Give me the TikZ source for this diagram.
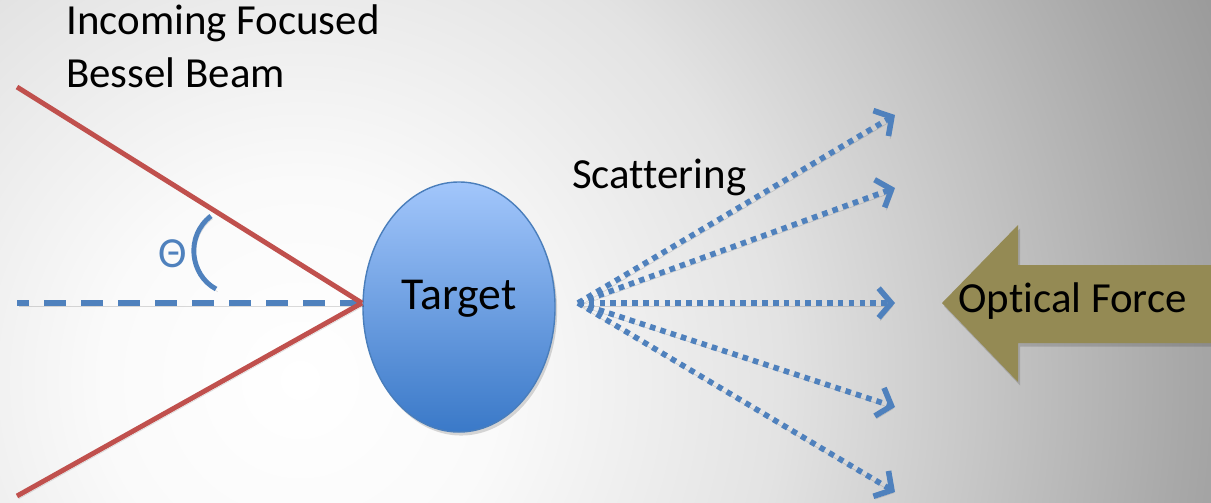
\documentclass[tikz,border=0pt]{standalone}
\usepackage{fontspec}
\setmainfont{Carlito}[Ligatures=CommonOff]
\usetikzlibrary{arrows.meta, shapes.geometric}

\definecolor{beamred}{HTML}{C0504D}
\definecolor{axisblue}{HTML}{4F81BD}
\definecolor{forceolive}{HTML}{948A54}
\definecolor{targettop}{HTML}{A2C6FB}
\definecolor{targetbot}{HTML}{3A79C8}
\definecolor{targetedge}{HTML}{4A7EBB}

% soft glow behind everything (path radius = 25bp)
\pgfdeclareradialshading{bgglow}{\pgfpoint{0bp}{0bp}}{%
  color(0bp)=(white); color(5bp)=(black!2); color(12bp)=(black!11);
  color(16bp)=(black!20); color(22bp)=(black!34); color(25bp)=(black!40);
  color(50bp)=(black!40)}

\begin{document}
\begin{tikzpicture}[
    x=0.025cm, y=-0.025cm,
    caption/.style={
        font=\fontsize{30.5}{37}\selectfont,
        inner sep=0pt
    },
    shadowed/.style={
        preaction={draw=black, opacity=0.14,
            transform canvas={shift={(1.2pt,-2pt)}}}
    },
    beam/.style={
        shadowed,
        beamred,
        line width=3.5pt
    },
    axis/.style={
        shadowed,
        axisblue,
        line width=3.8pt,
        dash pattern=on 15.6pt off 10.7pt
    },
    ray/.style={
        shadowed,
        axisblue,
        line width=4pt,
        dash pattern=on 4pt off 3.7pt,
        -{Straight Barb[length=9pt, width=21pt, line width=4pt]}
    },
    target/.style={
        ellipse,
        draw=targetedge,
        line width=1pt,
        top color=targettop,
        bottom color=targetbot,
        minimum width=4.8cm,
        minimum height=6.25cm,
        text height=4pt,
        text depth=0pt,
        font=\fontsize{32.5}{39}\selectfont,
        preaction={fill=black, opacity=0.15,
            transform canvas={shift={(1.5pt,-2.5pt)}}}
    }
]

% Background
\useasboundingbox (0,0) rectangle (1211,502);
\begin{scope}
    \clip (0,0) rectangle (1211,502);
    \shade[shading=bgglow] (300,380) circle (25cm);
\end{scope}

% Optical force arrow
\fill[black, opacity=0.15, transform canvas={shift={(1.5pt,-2.5pt)}}]
    (942,303) -- (1018,225) -- (1018,265) -- (1240,265) --
    (1240,343) -- (1018,343) -- (1018,382) -- cycle;
\fill[forceolive]
    (942,303) -- (1018,225) -- (1018,265) -- (1240,265) --
    (1240,343) -- (1018,343) -- (1018,382) -- cycle;

% Nodes

\node[caption, anchor=base west, align=left] (beamlabel) at (66,87)
    {Incoming Focused\\Bessel Beam};

\node[target] (target) at (459,307) {Target};

\node[caption, anchor=base, text=axisblue] (theta) at (173,267) {Θ};

\node[caption, anchor=base west] (scatterlabel) at (572,188) {Scattering};

\node[caption, anchor=base west] (forcelabel) at (958,312) {Optical Force};

\coordinate (beamtop) at (17,87);
\coordinate (beambot) at (17,496);
\coordinate (axisend) at (17,303);
\coordinate (focus) at (362,303);
\coordinate (spread) at (578,303);
\foreach \ey [count=\i] in {115,188,303,407,492}
    \coordinate (ray\i) at (895,\ey);

% Beam and axis

\draw[axis] (focus) -- (axisend);
\draw[beam] (beamtop) -- (focus);
\draw[beam] (beambot) -- (focus);
\draw[shadowed, axisblue, line width=3.5pt]
    (211,216) .. controls (185,236) and (190,275) .. (216,289);

% Scattered rays

\foreach \i in {1,...,5}
    \draw[ray] (spread) -- (ray\i);

\end{tikzpicture}
\end{document}
